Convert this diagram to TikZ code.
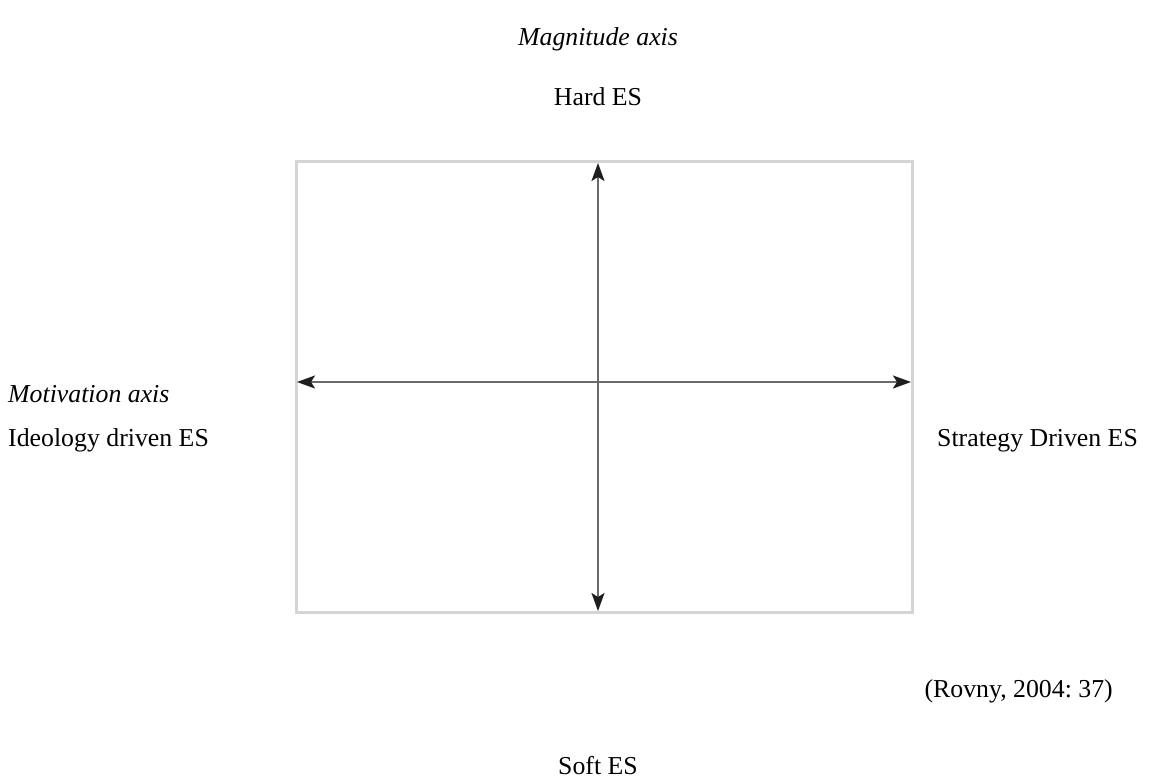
\documentclass[tikz,border=0pt]{standalone}
\usepackage{fontspec}
\setmainfont{Liberation Serif}
\usetikzlibrary{arrows.meta}
\definecolor{boxgray}{HTML}{D4D4D4}
\definecolor{axisgray}{HTML}{6A6A6A}
\definecolor{tipgray}{HTML}{1E1E1E}
\frenchspacing
\begin{document}
\begin{tikzpicture}[x=1pt,y=-1pt,
  lbl/.style={inner sep=0pt,anchor=base,font=\fontsize{25.8}{30}\selectfont},
  lblw/.style={lbl,anchor=base west},
  lble/.style={lbl,anchor=base east},
  frame/.style={draw=boxgray,line width=3pt,minimum width=616pt,minimum height=450pt,inner sep=0pt},
  axisline/.style={draw=axisgray,line width=2pt,{Stealth[length=18pt,width=13pt,inset=4pt,color=tipgray]}-{Stealth[length=18pt,width=13pt,inset=4pt,color=tipgray]}}]
\useasboundingbox (0,0) rectangle (1152,781);
\node[frame] (box) at (604,387) {};
\coordinate (top) at (598,163);
\coordinate (bot) at (598,611);
\coordinate (lft) at (297,382);
\coordinate (rgt) at (911,382);
\draw[axisline] (bot) -- (top);
\draw[axisline] (lft) -- (rgt);
\node[lbl,font=\fontsize{25.8}{30}\selectfont\itshape] (mag) at (598,46) {Magnitude axis};
\node[lbl] (hard) at (598,106) {Hard ES};
\node[lblw,font=\fontsize{25.8}{30}\selectfont\itshape] (mot) at (8,402) {Motivation axis};
\node[lblw] (ideo) at (8,446) {Ideology driven ES};
\node[lblw] (strat) at (937,446) {Strategy Driven ES};
\node[lble] (src) at (1113,697) {(Rovny, 2004: 37)};
\node[lbl] (soft) at (598,774) {Soft ES};
\end{tikzpicture}
\end{document}
